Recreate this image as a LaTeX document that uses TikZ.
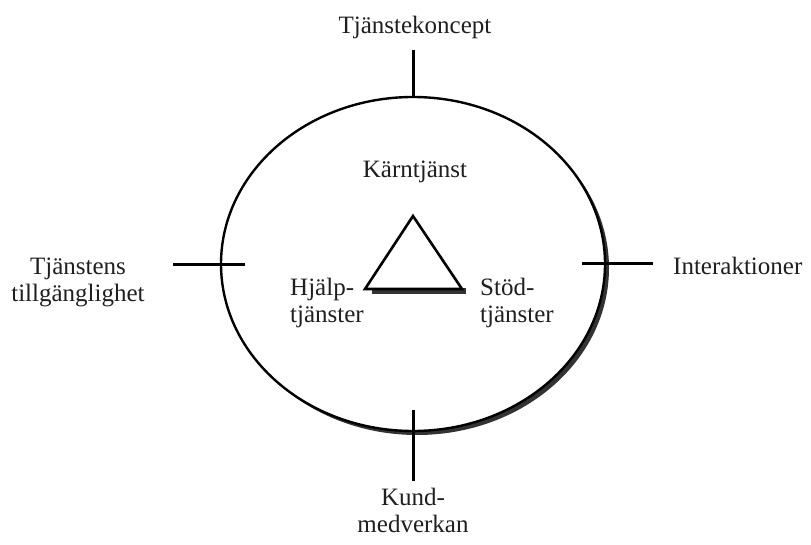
\documentclass[tikz,border=0pt]{standalone}
\usepackage{fontspec}
\setmainfont{Liberation Serif}
\begin{document}
\begin{tikzpicture}[x=1pt,y=-1pt,
  lbl/.style={font=\fontsize{25}{27}\selectfont, text=black!88, inner sep=0pt},
  tick/.style={line width=3pt},
  shadowfill/.style={fill=black!80, draw=none}]
\useasboundingbox (0,0) rectangle (811,545);
% the service oval with its drop shadow
\fill[shadowfill] (417,268) ellipse (192 and 167);
\draw[line width=2.4pt, fill=white] (413,264) ellipse (192 and 167);
% ticks crossing the oval
\coordinate (t1) at (413,50);  \coordinate (t2) at (413,97);
\coordinate (l1) at (173,265); \coordinate (l2) at (245,265);
\coordinate (r1) at (582,264); \coordinate (r2) at (653,264);
\coordinate (b1) at (413,410); \coordinate (b2) at (413,481);
\draw[tick] (t1) -- (t2);
\draw[tick] (l1) -- (l2);
\draw[tick] (r1) -- (r2);
\draw[tick] (b1) -- (b2);
% core triangle with its shadow under the base
\coordinate (apex) at (413,216);
\coordinate (bl) at (365,289);
\coordinate (br) at (462,289);
\fill[shadowfill] (372,288) rectangle (466,294);
\draw[line width=2.6pt, line join=miter, fill=white] (apex) -- (bl) -- (br) -- cycle;
% labels
\node[lbl, anchor=base] (koncept) at (415,34) {Tjänstekoncept};
\node[lbl, anchor=base] (karn) at (415,178) {Kärntjänst};
\node[lbl, anchor=west, align=left] (hjalp) at (290,302.5) {Hjälp-\\tjänster};
\node[lbl, anchor=west, align=left] (stod) at (480,302.5) {Stöd-\\tjänster};
\node[lbl, align=center] (tillg) at (78,282.5) {Tjänstens\\tillgänglighet};
\node[lbl, anchor=base west] (inter) at (673,275) {Interaktioner};
\node[lbl, align=center] (kund) at (413,510) {Kund-\\medverkan};
\end{tikzpicture}
\end{document}
